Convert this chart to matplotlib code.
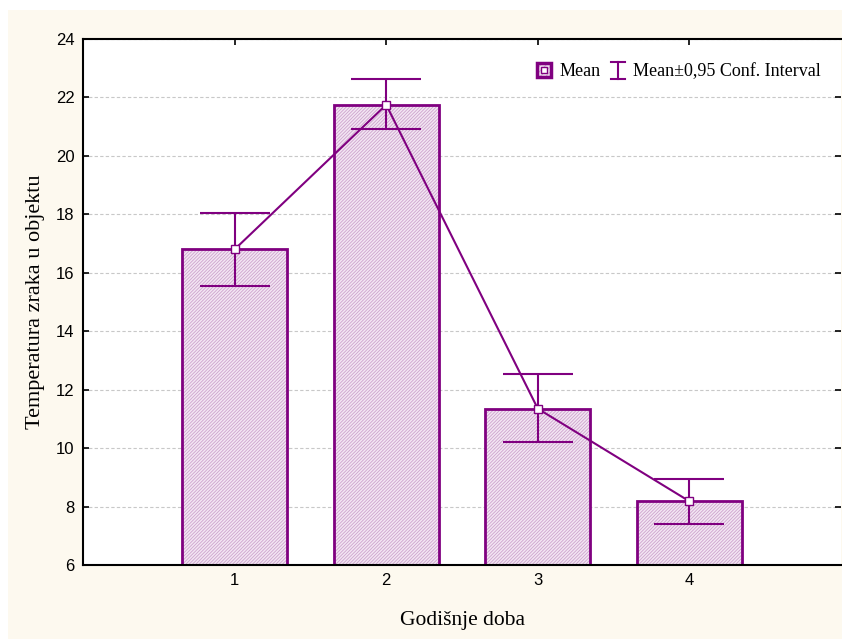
import numpy as np
import matplotlib.pyplot as plt
from matplotlib.patches import Rectangle
from matplotlib.lines import Line2D
from matplotlib.legend_handler import HandlerBase

seasons = [1, 2, 3, 4]
means = [16.8, 21.75, 11.35, 8.18]
ci_low = [15.55, 20.92, 10.21, 7.42]
ci_high = [18.05, 22.62, 12.54, 8.94]

purple = '#800080'
hatch_col = '#cda3cd'
plt.rcParams['hatch.linewidth'] = 0.6


class MeanHandler(HandlerBase):
    def create_artists(self, legend, orig, xd, yd, w, h, fs, trans):
        s = min(w, h) * 1.1
        x0 = xd + (w - s) / 2
        y0 = yd + (h - s) / 2
        fill = Rectangle((x0, y0), s, s, facecolor='#f0e0f0', edgecolor=hatch_col,
                         lw=0, hatch='//////', transform=trans)
        box = Rectangle((x0, y0), s, s, facecolor='none', edgecolor=purple,
                        lw=2.5, transform=trans)
        dot = Line2D([x0 + s / 2], [y0 + s / 2], marker='s', markersize=5,
                     markerfacecolor='white', markeredgecolor=purple, ls='none',
                     transform=trans)
        return [fill, box, dot]


class CIHandler(HandlerBase):
    def create_artists(self, legend, orig, xd, yd, w, h, fs, trans):
        cx = xd + w / 2
        hw = w * 0.45
        y0, y1 = yd - 0.2 * h, yd + 1.1 * h
        kw = dict(color=purple, lw=1.5, transform=trans)
        return [Line2D([cx, cx], [y0, y1], **kw),
                Line2D([cx - hw, cx + hw], [y0, y0], **kw),
                Line2D([cx - hw, cx + hw], [y1, y1], **kw)]


fig = plt.figure(figsize=(8.42, 6.39), dpi=100, facecolor='white')
fig.patches.append(Rectangle((8/842, 0), 1, 1 - 10/639, transform=fig.transFigure,
                             facecolor='#fdf9ef', edgecolor='none', zorder=-10))
ax = fig.add_axes([83/842, 74/639, (841-83)/842, (565-39)/639])
ax.set_facecolor('white')

x = np.array(seasons)
m = np.array(means)
# fill with fine hatch, then the purple outline on top
ax.bar(x, m - 6, bottom=6, width=0.69, facecolor='#f3e6f3', edgecolor=hatch_col,
       linewidth=0, hatch='//////////', zorder=2)
ax.bar(x, m - 6, bottom=6, width=0.69, facecolor='none', edgecolor=purple,
       linewidth=2, zorder=2.5)
err = [m - np.array(ci_low), np.array(ci_high) - m]
ax.errorbar(x, m, yerr=err, fmt='none', ecolor=purple, elinewidth=1.5,
            capsize=25, capthick=1.5, zorder=3)
ax.plot(x, m, color=purple, lw=1.5, marker='s', markersize=6,
        markerfacecolor='white', markeredgecolor=purple, zorder=4)

ax.set_xlim(0, 5)
ax.set_ylim(6, 24)
ax.set_xticks(seasons)
ax.set_yticks(np.arange(6, 25, 2))
ax.yaxis.grid(True, linestyle=(0, (3, 2)), color='#c8c8c8', linewidth=0.8, zorder=0)
ax.set_axisbelow(True)
ax.tick_params(direction='in', top=True, right=True, length=4, width=1.2,
               labelsize=12, labelfontfamily='Liberation Sans', pad=6)
for s in ['left', 'bottom', 'top']:
    ax.spines[s].set_linewidth(1.5)
ax.spines['right'].set_visible(False)

ax.set_xlabel('Godišnje doba', family='Liberation Serif', fontsize=15.5, labelpad=16)
ax.set_ylabel('Temperatura zraka u objektu', family='Liberation Serif', fontsize=16, labelpad=8)

h1, h2 = object(), object()
leg = ax.legend([h1, h2], ['Mean', 'Mean±0,95 Conf. Interval'],
                handler_map={h1: MeanHandler(), h2: CIHandler()},
                loc='upper right', frameon=False, handlelength=0.9, handletextpad=0.4,
                columnspacing=0.5, ncol=2, prop={'family': 'Liberation Serif', 'size': 13},
                bbox_to_anchor=(0.995, 0.985))

fig.savefig('out.png', dpi=100, facecolor=fig.get_facecolor())
